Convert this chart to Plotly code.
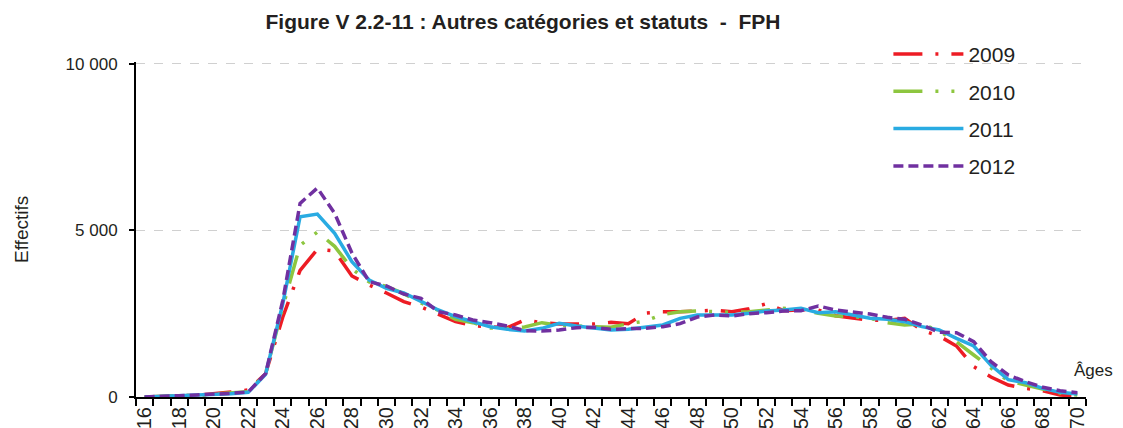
import plotly.graph_objects as go

ages = list(range(16, 71))

y2009 = [0, 30, 40, 50, 90, 150, 210, 700, 2400, 3800, 4430, 4380, 3630, 3360, 3120,
         2860, 2700, 2480, 2260, 2140, 2100, 2080, 2310, 2230, 2190, 2180, 2190, 2240,
         2200, 2520, 2560, 2560, 2580, 2600, 2560, 2650, 2800, 2590, 2620, 2610, 2440,
         2360, 2300, 2300, 2360, 2000, 1830, 1530, 910, 600, 360, 260, 190, 60, 20]
y2010 = [0, 30, 40, 50, 80, 120, 160, 700, 2700, 4550, 4950, 4520, 3850, 3450, 3320,
         3100, 2820, 2600, 2330, 2230, 2070, 2050, 2100, 2230, 2150, 2130, 2110, 2090,
         2200, 2280, 2480, 2560, 2580, 2560, 2540, 2560, 2600, 2660, 2620, 2510, 2430,
         2410, 2360, 2230, 2160, 2190, 1980, 1660, 1260, 860, 480, 360, 240, 120, 60]
y2011 = [0, 20, 30, 40, 70, 100, 140, 680, 2800, 5410, 5490, 4910, 4060, 3510, 3260,
         3120, 2870, 2610, 2410, 2260, 2110, 2030, 1980, 2060, 2210, 2130, 2060, 2010,
         2030, 2090, 2160, 2360, 2460, 2460, 2460, 2510, 2580, 2610, 2660, 2530, 2560,
         2460, 2360, 2330, 2260, 2110, 2010, 1760, 1530, 950, 520, 430, 260, 140, 90]
y2012 = [0, 30, 40, 60, 80, 110, 150, 700, 2900, 5810, 6270, 5510, 4320, 3460, 3330,
         3090, 2960, 2560, 2460, 2310, 2230, 2130, 1990, 1980, 2010, 2080, 2090, 2030,
         2050, 2060, 2110, 2200, 2400, 2460, 2430, 2500, 2530, 2580, 2590, 2730, 2610,
         2560, 2490, 2390, 2330, 2160, 1940, 1930, 1660, 1060, 660, 460, 290, 190, 130]

series = [
    ("2009", y2009, "#ED1C24", "29px,13px,3px,13px"),
    ("2010", y2010, "#8DC63F", "29px,13px,3px,13px,3px,13px"),
    ("2011", y2011, "#29ABE2", "solid"),
    ("2012", y2012, "#7030A0", "10px,5px"),
]

x_labels = [str(a) for a in range(16, 71, 2)]
y_ticks = [0, 5000, 10000]
y_ticktext = ["0", "5 000", "10 000"]

TXT = "#231F20"

fig = go.Figure()
for name, vals, color, dash in series:
    fig.add_trace(go.Scatter(
        x=ages, y=vals, name=name, mode="lines", legendgroup=name,
        line=dict(color=color, width=3.5, dash=dash),
    ))

fig.update_layout(
    width=1123, height=428,
    margin=dict(l=128, r=45, t=54, b=39, autoexpand=False),
    paper_bgcolor="white", plot_bgcolor="white",
    font=dict(family="Liberation Sans, Arial, sans-serif", color=TXT, size=16),
    title=dict(text="<b>Figure V 2.2-11 : Autres catégories et statuts  -  FPH</b>",
               x=0.4586, xanchor="center", y=0.967, yanchor="middle",
               font=dict(size=21, color=TXT)),
    legend=dict(x=0.792, y=1.084, xanchor="left", yanchor="top",
                font=dict(size=21), itemwidth=70, tracegroupgap=7,
                traceorder="grouped", bgcolor="rgba(0,0,0,0)"),
    xaxis=dict(
        range=[15.5, 70.5], tickmode="array",
        tickvals=list(range(16, 71, 2)), ticktext=x_labels,
        tickangle=-90, ticks="", tickfont=dict(size=20), automargin=False,
        showline=True, linecolor="black", linewidth=2, showgrid=False, zeroline=False,
        minor=dict(tick0=15.5, dtick=1, ticks="outside", ticklen=7,
                   tickcolor="black", tickwidth=1.5, showgrid=False),
    ),
    yaxis=dict(
        range=[0, 10050], tickmode="array", tickvals=y_ticks, ticktext=y_ticktext,
        ticks="outside", ticklen=5, tickcolor="black", tickwidth=1.5,
        ticklabelstandoff=8, automargin=False,
        showline=True, linecolor="black", linewidth=2,
        showgrid=True, gridcolor="#D0D0D0", griddash="dash", gridwidth=1.2,
        zeroline=False, tickfont=dict(size=17),
    ),
    annotations=[
        dict(text="Âges", xref="paper", yref="paper", x=(1072 - 136) / 950, y=0.08,
             xanchor="left", yanchor="middle", showarrow=False,
             font=dict(size=17)),
        dict(text="Effectifs", xref="paper", yref="paper", x=(21.5 - 136) / 950,
             y=0.5, xanchor="center", yanchor="middle", textangle=-90,
             showarrow=False, font=dict(size=19)),
    ],
)

fig.write_html("out.html")
